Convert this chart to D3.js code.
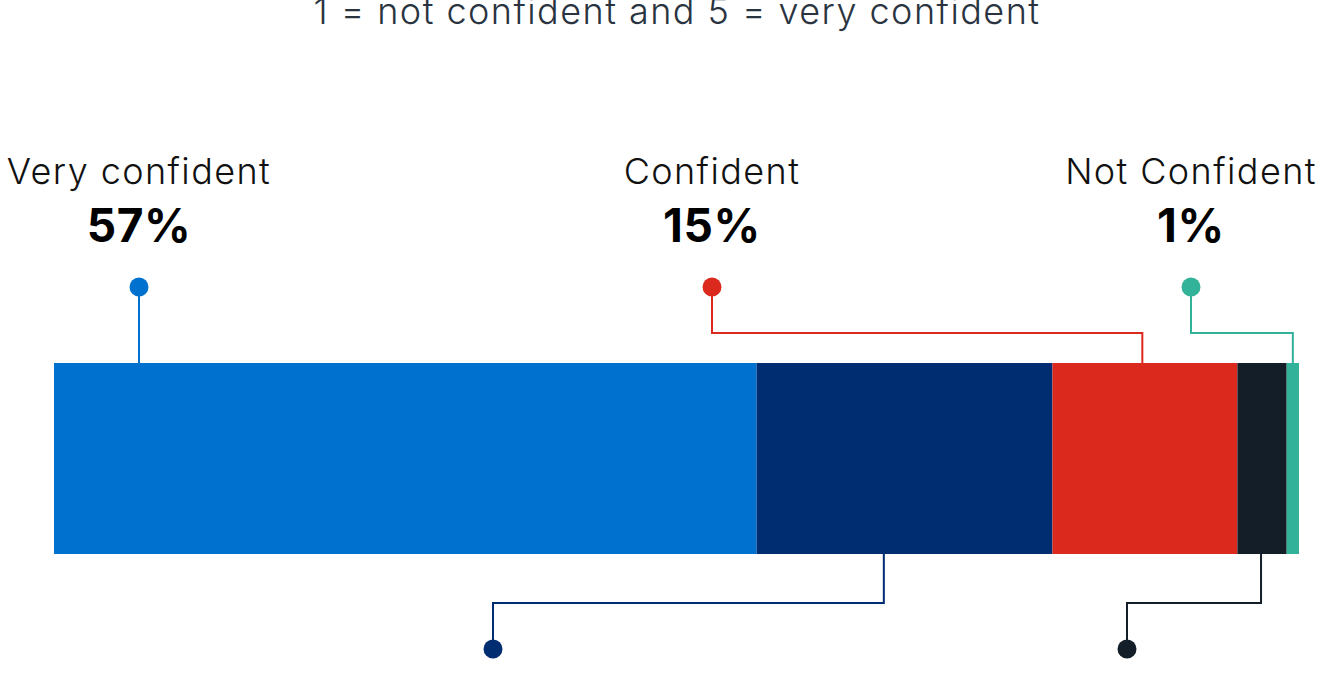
<html>
<head>
<script src="https://d3js.org/d3.v7.min.js"></script>
<style>
  body { margin: 0; background: #fff; }
  svg { display: block; font-family: Inter, "Noto Sans", sans-serif; }
</style>
</head>
<body>
<svg id="chart"></svg>
<script>
// confidence scale, 5 = very confident ... 1 = not confident
var levels = ["5", "4", "3", "2", "1"];
var values = [57, 24, 15, 4, 1];
var labels = ["Very confident", "", "Confident", "", "Not Confident"];
var colors = ["#0071ce", "#002d72", "#dc291d", "#131e29", "#33b29a"];

var width = 1324, height = 682;

// where the callout line meets the segment (fraction of segment width),
// where the dot sits and whether it goes above or below the bar
var callout = [
  {frac: 0.121, dotX: 139, side: "top"},
  {frac: 0.43, dotX: 493, side: "bottom"},
  {frac: 0.486, dotX: 712, side: "top"},
  {frac: 0.48, dotX: 1127, side: "bottom"},
  {frac: 0.5, dotX: 1191, side: "top"}
];

var barTop = 363, barBottom = 554;

var svg = d3.select("#chart")
  .attr("width", width)
  .attr("height", height);

svg.append("text")
  .attr("x", 677)
  .attr("y", 24)
  .attr("text-anchor", "middle")
  .attr("font-size", 36)
  .attr("font-weight", 300)
  .attr("letter-spacing", 1.45)
  .attr("fill", "#2a3441")
  .text("1 = not confident and 5 = very confident");

var x = d3.scaleLinear()
  .domain([0, d3.sum(values)])
  .range([54, 1299]);

var data = [];
var acc = 0;
levels.forEach(function(l, i) {
  data.push({level: l, value: values[i], label: labels[i], color: colors[i],
    x0: acc, x1: acc + values[i], c: callout[i]});
  acc += values[i];
});

svg.selectAll("rect.seg")
  .data(data)
  .join("rect")
    .attr("class", "seg")
    .attr("x", d => x(d.x0))
    .attr("width", d => x(d.x1) - x(d.x0))
    .attr("y", barTop)
    .attr("height", barBottom - barTop)
    .attr("fill", d => d.color);

// callout lines
svg.selectAll("path.callout")
  .data(data)
  .join("path")
    .attr("class", "callout")
    .attr("fill", "none")
    .attr("stroke", d => d.color)
    .attr("stroke-width", 2)
    .attr("d", function(d) {
      var ax = x(d.x0) + (x(d.x1) - x(d.x0)) * d.c.frac;
      if (d.c.side == "top") {
        if (Math.abs(ax - d.c.dotX) < 2) return `M${d.c.dotX},287V${barTop}`;
        return `M${d.c.dotX},287V333H${ax}V${barTop}`;
      }
      return `M${ax},${barBottom}V603H${d.c.dotX}V649`;
    });

svg.selectAll("circle.dot")
  .data(data)
  .join("circle")
    .attr("class", "dot")
    .attr("cx", d => d.c.dotX)
    .attr("cy", d => d.c.side == "top" ? 287 : 649)
    .attr("r", 9.5)
    .attr("fill", d => d.color);

var top3 = data.filter(d => d.c.side == "top");

svg.selectAll("text.name")
  .data(top3)
  .join("text")
    .attr("class", "name")
    .attr("x", d => d.c.dotX)
    .attr("y", 184)
    .attr("text-anchor", "middle")
    .attr("font-size", 36)
    .attr("font-weight", 300)
    .attr("letter-spacing", 1.4)
    .attr("fill", "#111")
    .text(d => d.label);

svg.selectAll("text.pct")
  .data(top3)
  .join("text")
    .attr("class", "pct")
    .attr("x", d => d.c.dotX)
    .attr("y", 242)
    .attr("text-anchor", "middle")
    .attr("font-size", 46)
    .attr("font-weight", 700)
    .attr("letter-spacing", 0.6)
    .attr("fill", "#000")
    .text(d => d.value + "%");
</script>
</body>
</html>
